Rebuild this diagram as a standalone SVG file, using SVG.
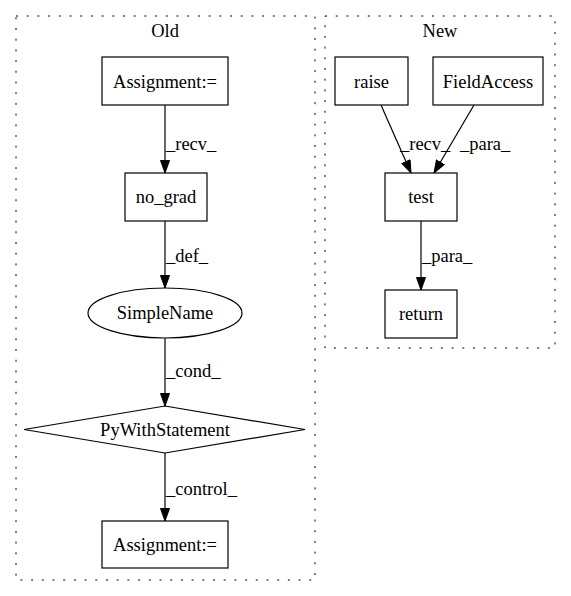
<svg xmlns="http://www.w3.org/2000/svg" width="571" height="596" viewBox="0 0 571 596">
<style>
.cluster{fill:none;stroke:#000;stroke-width:1;stroke-dasharray:2,8.7}
.node{fill:#fff;stroke:#000;stroke-width:1.2}
text{font-family:"Liberation Serif","Times New Roman",serif;font-size:18.5px;fill:#000}
.c{text-anchor:middle}
.edge{stroke:#000;stroke-width:1.2;fill:none}
</style>
<defs>
<marker id="arr" markerUnits="userSpaceOnUse" markerWidth="14" markerHeight="11" refX="13" refY="5" orient="auto">
<path d="M0.5,0.5 L13,5 L0.5,9.5 z" fill="#000" stroke="#000" stroke-width="1"/>
</marker>
</defs>
<rect width="571" height="596" fill="#fff"/>
<g id="cluster_old">
<rect class="cluster" x="16" y="16" width="299" height="564"/>
<text class="c" x="165" y="37">Old</text>
</g>
<g id="cluster_new">
<rect class="cluster" x="325" y="16" width="230" height="332"/>
<text class="c" x="440" y="37">New</text>
</g>
<g id="connectors">
<line class="edge" x1="165" y1="105" x2="165" y2="173" marker-end="url(#arr)"/>
<text x="166" y="150">_recv_</text>
<line class="edge" x1="165" y1="221" x2="165" y2="288" marker-end="url(#arr)"/>
<text x="166" y="262">_def_</text>
<line class="edge" x1="165" y1="338" x2="165" y2="406" marker-end="url(#arr)"/>
<text x="166" y="377">_cond_</text>
<line class="edge" x1="165" y1="453" x2="165" y2="521" marker-end="url(#arr)"/>
<text x="166" y="495">_control_</text>
<line class="edge" x1="381" y1="105" x2="411" y2="173" marker-end="url(#arr)"/>
<text x="400" y="150">_recv_</text>
<line class="edge" x1="474" y1="105" x2="434" y2="173" marker-end="url(#arr)"/>
<text x="460" y="150">_para_</text>
<line class="edge" x1="421" y1="221" x2="421" y2="290" marker-end="url(#arr)"/>
<text x="422" y="262">_para_</text>
</g>
<g id="node_assign1">
<rect class="node" x="102" y="57" width="126" height="48"/>
<text class="c" x="165" y="87.5">Assignment:=</text>
</g>
<g id="node_nograd">
<rect class="node" x="125" y="173" width="82" height="48"/>
<text class="c" x="166" y="203">no_grad</text>
</g>
<g id="node_simplename">
<ellipse class="node" cx="165" cy="313" rx="77" ry="25"/>
<text class="c" x="165" y="319">SimpleName</text>
</g>
<g id="node_pywith">
<polygon class="node" points="165,406 305,429.5 165,453 24,429.5"/>
<text class="c" x="165" y="435.5">PyWithStatement</text>
</g>
<g id="node_assign2">
<rect class="node" x="102" y="521" width="126" height="47"/>
<text class="c" x="165" y="551">Assignment:=</text>
</g>
<g id="node_raise">
<rect class="node" x="335" y="57" width="73" height="48"/>
<text class="c" x="371.5" y="87.5">raise</text>
</g>
<g id="node_fieldaccess">
<rect class="node" x="433" y="57" width="110" height="48"/>
<text class="c" x="488" y="87.5">FieldAccess</text>
</g>
<g id="node_test">
<rect class="node" x="385" y="173" width="72" height="48"/>
<text class="c" x="421" y="203">test</text>
</g>
<g id="node_return">
<rect class="node" x="385" y="290" width="72" height="48"/>
<text class="c" x="421" y="319.5">return</text>
</g>
</svg>
